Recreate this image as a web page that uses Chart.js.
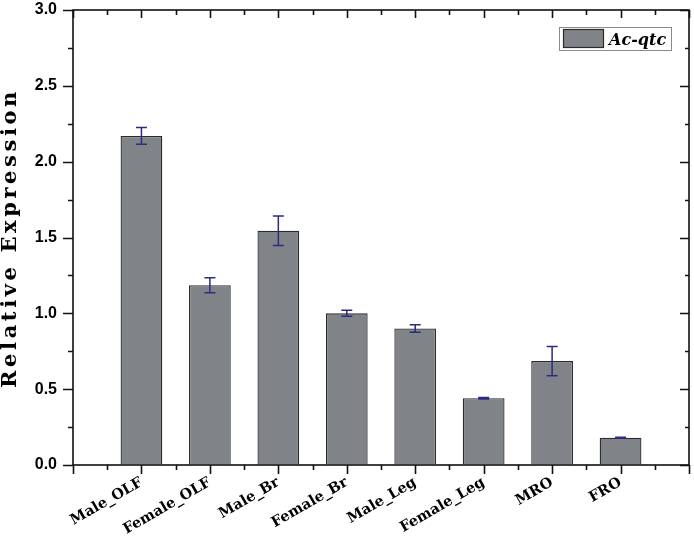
<!DOCTYPE html>
<html>
<head>
<meta charset="utf-8">
<script src="https://cdn.jsdelivr.net/npm/chart.js@4.4.1/dist/chart.umd.min.js"></script>
<style>
  html, body { margin: 0; padding: 0; background: #fff; }
  #wrap { width: 694px; height: 538px; position: relative; }
</style>
</head>
<body>
<div id="wrap"><canvas id="chart"></canvas></div>
<script>
// ---- data ----
const tissues = ['Male_OLF', 'Female_OLF', 'Male_Br', 'Female_Br', 'Male_Leg', 'Female_Leg', 'MRO', 'FRO'];
const expression = [2.17, 1.185, 1.545, 1.0, 0.90, 0.44, 0.685, 0.18];
const errors = [0.055, 0.05, 0.097, 0.02, 0.025, 0.005, 0.097, 0.003];
const seriesName = 'Ac-qtc';
const yTicks = [0, 0.5, 1.0, 1.5, 2.0, 2.5, 3.0];

// empty slot at each end so the bars sit at 1..8 on a 0..9 axis
const axisLabels = ['', ...tissues, ''];
const axisData = [null, ...expression, null];

const BAR = '#808488';
const EDGE = '#2b2b2b';
const ERR = '#2c2b7f';

// frame, ticks (in/out, major/minor), error bars, legend, y title
const decor = {
  id: 'decor',
  afterDatasetsDraw(chart) {
    const { ctx, scales: { x, y } } = chart;
    ctx.save();
    ctx.strokeStyle = ERR;
    ctx.lineWidth = 1.5;
    expression.forEach((m, i) => {
      const px = x.getPixelForValue(i + 1);
      const top = y.getPixelForValue(m + errors[i]);
      const bot = y.getPixelForValue(m - errors[i]);
      ctx.beginPath();
      ctx.moveTo(px, top); ctx.lineTo(px, bot);
      ctx.moveTo(px - 5.5, top); ctx.lineTo(px + 5.5, top);
      ctx.moveTo(px - 5.5, bot); ctx.lineTo(px + 5.5, bot);
      ctx.stroke();
    });
    ctx.restore();
  },
  afterDraw(chart) {
    const { ctx, chartArea: a, scales: { x, y } } = chart;
    ctx.save();
    ctx.strokeStyle = '#111';
    ctx.lineWidth = 1.6;
    ctx.strokeRect(a.left, a.top, a.right - a.left, a.bottom - a.top);

    ctx.beginPath();
    // y ticks: left outward, right inward
    for (let v = 0; v <= 3.0001; v += 0.25) {
      const py = Math.round(y.getPixelForValue(v)) + 0.5;
      const major = Math.abs(v * 2 - Math.round(v * 2)) < 1e-6;
      const len = major ? 10 : 5;
      ctx.moveTo(a.left, py); ctx.lineTo(a.left - len, py);
      ctx.moveTo(a.right, py); ctx.lineTo(a.right - len + 1, py);
    }
    // x ticks: bottom outward, top inward
    for (let k = 0; k <= (axisLabels.length - 1) * 2; k++) {
      const px = Math.round(x.getPixelForValue(k / 2)) + 0.5;
      const major = k % 2 === 0;
      ctx.moveTo(px, a.bottom); ctx.lineTo(px, a.bottom + (major ? 9 : 5));
      ctx.moveTo(px, a.top); ctx.lineTo(px, a.top + (major ? 8 : 5));
    }
    ctx.stroke();

    // legend box
    ctx.lineWidth = 1;
    ctx.strokeStyle = '#8a8a8a';
    ctx.strokeRect(559.5, 27.5, 112, 23);
    ctx.fillStyle = BAR;
    ctx.fillRect(563, 29, 41, 19);
    ctx.strokeStyle = EDGE;
    ctx.lineWidth = 1.2;
    ctx.strokeRect(563.5, 29.5, 40, 18);
    ctx.fillStyle = '#000';
    ctx.font = 'italic bold 16px "DejaVu Serif"';
    ctx.textBaseline = 'alphabetic';
    ctx.textAlign = 'left';
    ctx.fillText(seriesName, 609, 45);

    // y axis title
    ctx.translate(11, 238);
    ctx.rotate(-Math.PI / 2);
    ctx.font = 'bold 21px "DejaVu Serif"';
    ctx.letterSpacing = '3.6px';
    ctx.textAlign = 'center';
    ctx.textBaseline = 'middle';
    ctx.fillText('Relative Expression', 0, 0);
    ctx.restore();
  }
};

new Chart(document.getElementById('chart'), {
  type: 'bar',
  data: {
    labels: axisLabels,
    datasets: [{
      label: seriesName,
      data: axisData,
      backgroundColor: BAR,
      borderColor: EDGE,
      borderWidth: 1.3,
      barPercentage: 0.61,
      categoryPercentage: 1
    }]
  },
  options: {
    responsive: true,
    maintainAspectRatio: false,
    animation: false,
    layout: { padding: { top: 10, right: 5, left: 0, bottom: 0 } },
    plugins: { legend: { display: false }, tooltip: { enabled: false } },
    scales: {
      x: {
        offset: false,
        grid: { drawOnChartArea: false, drawTicks: true, tickLength: 9, tickColor: 'transparent' },
        border: { display: false },
        ticks: {
          autoSkip: false,
          maxRotation: 30,
          minRotation: 30,
          padding: 0,
          color: '#000',
          font: { family: '"DejaVu Serif"', weight: 'bold', size: 14.5 }
        },
        afterFit(s) { s.height = 73; s.paddingLeft = 0; s.paddingRight = 0; }
      },
      y: {
        min: 0,
        max: 3,
        afterBuildTicks(s) { s.ticks = yTicks.map(v => ({ value: v })); },
        grid: { drawOnChartArea: false, drawTicks: true, tickLength: 10, tickColor: 'transparent' },
        border: { display: false },
        ticks: {
          padding: 6,
          color: '#000',
          font: { family: '"Liberation Sans"', weight: 'bold', size: 16 },
          callback: v => Number(v).toFixed(1)
        },
        afterFit(s) { s.width = 73; s.paddingTop = 0; s.paddingBottom = 0; }
      }
    }
  },
  plugins: [decor]
});
</script>
</body>
</html>
